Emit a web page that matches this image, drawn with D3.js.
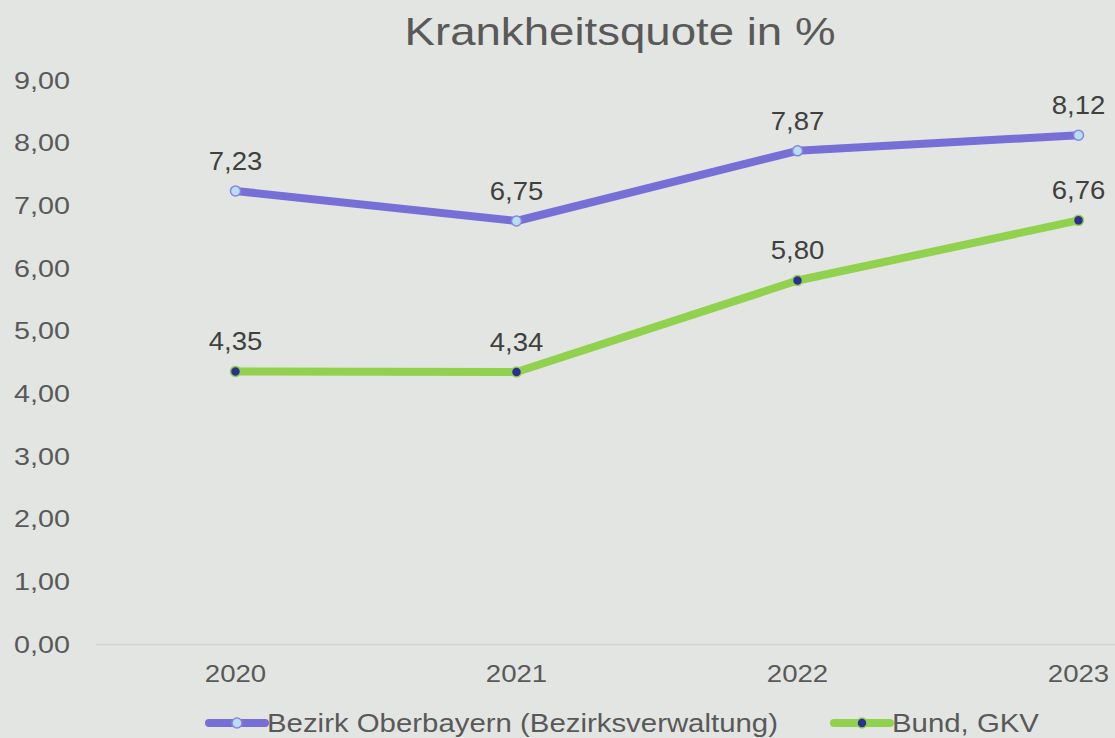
<!DOCTYPE html>
<html lang="de">
<head>
  <meta charset="UTF-8">
  <title>Krankheitsquote in %</title>
  <script src="https://d3js.org/d3.v7.min.js"></script>
  <style>
    body {
      margin: 0;
      background-color: #e3e5e2;
      font-family: "Liberation Sans", Arial, sans-serif;
    }
    svg { display: block; }
  </style>
</head>
<body>
  <div id="chart"></div>
  <script>
    const years = ["2020", "2021", "2022", "2023"];
    const seriesNames = ["Bezirk Oberbayern (Bezirksverwaltung)", "Bund, GKV"];
    const oberbayern = [7.23, 6.75, 7.87, 8.12];
    const bund = [4.35, 4.34, 5.80, 6.76];
    const yTicks = [0, 1, 2, 3, 4, 5, 6, 7, 8, 9];

    const series = [
      { name: seriesNames[0], values: oberbayern, line: "#7670d6", dotFill: "#b7dff0", dotStroke: "#8a84e0" },
      { name: seriesNames[1], values: bund, line: "#90d14e", dotFill: "#2b2f8f", dotStroke: "#90d14e" }
    ];

    const W = 1115, H = 738;
    const plotLeft = 95, band = 281;

    const locale = d3.formatLocale({ decimal: ",", thousands: ".", grouping: [3], currency: ["", " €"] });
    const fmt = locale.format(".2f");

    const svg = d3.select("#chart")
      .append("svg")
      .attr("width", W)
      .attr("height", H);

    svg.append("rect")
      .attr("width", W)
      .attr("height", H)
      .attr("fill", "#e3e5e2");

    const x = d3.scaleBand()
      .domain(years)
      .range([plotLeft, plotLeft + band * years.length]);

    const y = d3.scaleLinear()
      .domain([0, 9])
      .range([644, 80]);

    const cx = d => x(d) + x.bandwidth() / 2;

    // title
    svg.append("text")
      .attr("transform", "translate(620,45) scale(1.2,1)")
      .attr("text-anchor", "middle")
      .attr("fill", "#595959")
      .style("font-size", "38px")
      .text("Krankheitsquote in %");

    // y axis (labels only)
    const yAxis = svg.append("g")
      .attr("transform", "translate(70,0)")
      .call(d3.axisLeft(y).tickValues(yTicks).tickFormat(fmt).tickSize(0).tickPadding(0));
    yAxis.select(".domain").remove();
    yAxis.selectAll("text")
      .attr("x", 0)
      .attr("dy", "0.35em")
      .attr("transform", "scale(1.25,1)")
      .attr("fill", "#595959")
      .style("font-size", "23px")
      .style("font-family", "'Liberation Sans', Arial, sans-serif");

    // x axis
    const xAxis = svg.append("g")
      .attr("transform", `translate(0,${y(0)})`)
      .call(d3.axisBottom(x).tickSize(0).tickPadding(0).tickSizeOuter(0));
    xAxis.select(".domain")
      .attr("stroke", "#d3d3d3")
      .attr("stroke-width", 1.5);
    xAxis.selectAll("text")
      .attr("y", 30)
      .attr("dy", "0.35em")
      .attr("transform", "scale(1.2,1)")
      .attr("fill", "#595959")
      .style("font-size", "23px")
      .style("font-family", "'Liberation Sans', Arial, sans-serif");

    const line = d3.line()
      .x((d, i) => cx(years[i]))
      .y(d => y(d));

    const groups = svg.selectAll("g.series")
      .data(series)
      .enter()
      .append("g")
      .attr("class", "series");

    groups.append("path")
      .attr("d", d => line(d.values))
      .attr("fill", "none")
      .attr("stroke", d => d.line)
      .attr("stroke-width", 8)
      .attr("stroke-linejoin", "round")
      .attr("stroke-linecap", "round");

    groups.selectAll("circle")
      .data(d => d.values.map((v, i) => ({ v, year: years[i], s: d })))
      .enter()
      .append("circle")
      .attr("cx", d => cx(d.year))
      .attr("cy", d => y(d.v))
      .attr("r", 5)
      .attr("fill", d => d.s.dotFill)
      .attr("stroke", d => d.s.dotStroke)
      .attr("stroke-width", 1.5);

    groups.selectAll("text.lbl")
      .data(d => d.values.map((v, i) => ({ v, year: years[i] })))
      .enter()
      .append("text")
      .attr("class", "lbl")
      .attr("transform", d => `translate(${cx(d.year)},${y(d.v) - 30}) scale(1.1,1)`)
      .attr("dy", "0.35em")
      .attr("text-anchor", "middle")
      .attr("fill", "#404040")
      .style("font-size", "25px")
      .text(d => fmt(d.v));

    // legend
    const legendX = [209, 834];
    const legend = svg.selectAll("g.legend")
      .data(series)
      .enter()
      .append("g")
      .attr("class", "legend")
      .attr("transform", (d, i) => `translate(${legendX[i]},723)`);

    legend.append("line")
      .attr("x1", 0)
      .attr("x2", 56)
      .attr("stroke", d => d.line)
      .attr("stroke-width", 8)
      .attr("stroke-linecap", "round");

    legend.append("circle")
      .attr("cx", 28)
      .attr("r", 5)
      .attr("fill", d => d.dotFill)
      .attr("stroke", d => d.dotStroke)
      .attr("stroke-width", 1.5);

    legend.append("text")
      .attr("transform", "translate(58,0) scale(1.13,1)")
      .attr("dy", "0.35em")
      .attr("fill", "#595959")
      .style("font-size", "26px")
      .text(d => d.name);
  </script>
</body>
</html>
